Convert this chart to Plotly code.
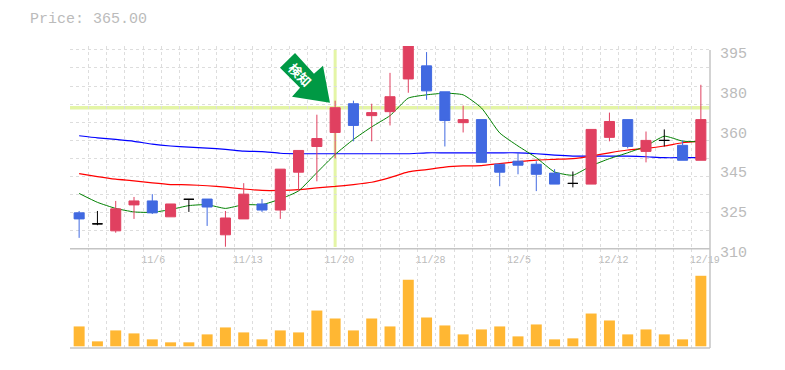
import plotly.graph_objects as go

idx = list(range(35))
tick_idx = [4, 9, 14, 19, 24, 29, 34]
tick_labels = ["11/6", "11/13", "11/20", "11/28", "12/5", "12/12", "12/19"]
y_ticks = [395, 378, 361, 344, 327, 310]
y_labels = ["395", "380", "360", "345", "325", "310"]

opens = [326.6, 321.9, 318.9, 330.0, 331.7, 324.9, 332.4, 332.5, 317.2, 324.0, 330.4, 327.8, 344.0, 355.0, 361.0,
         373.3, 368.2, 369.9, 383.9, 389.5, 378.4, 365.2, 366.5, 347.4, 348.7, 347.4, 343.6, 339.2, 338.9, 358.9,
         366.5, 352.9, 357.6, 355.5, 349.1]
closes = [324.0, 321.9, 328.3, 331.7, 326.6, 330.4, 332.4, 329.1, 324.4, 334.6, 327.8, 345.3, 353.3, 358.4, 371.6,
          364.0, 369.5, 376.3, 398.0, 378.8, 366.1, 366.5, 348.2, 344.0, 347.0, 343.1, 338.9, 339.2, 362.3, 365.7,
          355.0, 357.6, 357.6, 349.1, 366.5]
highs = [327.4, 327.4, 331.7, 333.4, 334.6, 330.4, 332.5, 332.5, 327.4, 339.3, 332.5, 345.3, 353.3, 368.6, 374.6,
         374.6, 373.3, 386.5, 398.0, 395.4, 378.4, 372.5, 366.5, 347.4, 352.5, 348.7, 345.3, 344.3, 362.3, 369.5,
         366.5, 361.4, 362.3, 357.6, 381.4]
lows = [315.9, 321.3, 318.1, 324.0, 326.1, 324.9, 327.0, 321.0, 312.1, 324.0, 327.0, 324.0, 335.9, 340.1, 349.9,
        357.2, 357.2, 364.0, 378.0, 375.0, 355.0, 361.0, 348.2, 338.0, 343.1, 335.9, 338.9, 337.5, 338.9, 357.2,
        354.2, 348.2, 355.0, 349.1, 349.1]
ma_short = [334.9, 331.1, 328.5, 327.0, 326.8, 328.0, 329.7, 330.1, 328.5, 330.1, 330.1, 332.5, 336.0, 343.8, 351.6,
            358.0, 363.4, 368.2, 375.7, 377.1, 377.8, 377.1, 371.5, 360.8, 355.2, 350.2, 344.1, 342.7, 346.7, 349.8,
            352.3, 355.2, 359.4, 357.3, 357.0]
ma_mid = [343.4, 342.1, 341.0, 340.3, 339.4, 338.7, 338.6, 338.2, 337.6, 336.8, 336.2, 336.2, 336.5, 337.3, 337.9,
          338.7, 339.7, 341.7, 344.1, 345.1, 346.2, 346.7, 346.8, 347.7, 348.5, 349.2, 349.5, 349.8, 350.9, 352.3,
          353.5, 354.2, 355.2, 356.6, 357.4]
ma_long = [359.6, 358.7, 358.0, 357.2, 356.0, 355.2, 354.7, 354.3, 353.8, 353.0, 352.8, 352.1, 351.9, 351.9, 351.9,
           351.9, 351.9, 351.9, 351.9, 352.3, 352.3, 352.3, 352.3, 352.3, 352.3, 351.9, 351.3, 350.9, 350.9, 350.9,
           350.9, 350.6, 350.2, 350.2, 350.2]
volumes = [20, 5, 16, 13, 7, 4, 4, 12, 19, 14, 7, 16, 14, 36, 28, 16, 28, 20, 67, 29, 21, 12, 17, 20, 10, 22, 7, 8,
           33, 26, 12, 17, 12, 7, 71]
h_grid = [396.3, 388.6, 380.8, 373.1, 365.4, 357.7, 349.9, 342.2, 334.5, 326.8, 319.0]
signal_idx = 14

RED, BLUE, BLACK = "#e04060", "#4169e1", "#000000"
GREY = "#bbbbbb"
GRID = "#dddddd"
MONO = "Liberation Mono, Courier New, monospace"
# the page body has an 8px margin, so the figure is drawn 8px in from the window corner
OFF = 8
L, R, T, B = 70 - OFF, 710 - OFF, 46 - OFF, 350 - OFF
W, H = 785 - OFF, 370 - OFF


def px(x, y):
    return (x - OFF - L) / (R - L), (B - (y - OFF)) / (B - T)


fig = go.Figure()
for vals, col, w in [(ma_long, "#0000ff", 1.2), (ma_mid, "#ff0000", 1.2), (ma_short, "#008000", 1)]:
    fig.add_trace(go.Scatter(x=idx, y=vals, mode="lines", line=dict(color=col, width=w, shape="spline", smoothing=0.5),
                             xaxis="x", yaxis="y"))


def candle(sel, col):
    fig.add_trace(go.Candlestick(
        x=[idx[i] for i in sel], open=[opens[i] for i in sel], high=[highs[i] for i in sel],
        low=[lows[i] for i in sel], close=[closes[i] for i in sel],
        increasing=dict(line=dict(color=col, width=1), fillcolor=col),
        decreasing=dict(line=dict(color=col, width=1), fillcolor=col),
        xaxis="x", yaxis="y3"))


candle([i for i in idx if closes[i] > opens[i]], RED)
candle([i for i in idx if closes[i] < opens[i]], BLUE)
candle([i for i in idx if closes[i] == opens[i]], BLACK)
fig.add_trace(go.Bar(x=idx, y=volumes, width=0.6, marker=dict(color="#ffb733", line=dict(width=0)),
                     xaxis="x2", yaxis="y2"))

x_minor = dict(tickmode="array", tickvals=[i - 0.5 for i in range(36)], showgrid=True, gridcolor=GRID,
               griddash="3px,3px", gridwidth=1, ticklen=0)
shapes = [
    dict(type="rect", xref="x", yref="y", x0=-0.6, x1=34.6, y0=396.4, y1=398, fillcolor="white",
         line=dict(width=0), layer="below"),
    dict(type="line", xref="x", yref="y", x0=-0.5, x1=34.5, y0=closes[signal_idx], y1=closes[signal_idx],
         line=dict(color="#e4f5a6", width=3.5), layer="below"),
    dict(type="line", xref="x", yref="y", x0=signal_idx, x1=signal_idx, y0=312, y1=396.3,
         line=dict(color="#e4f5a6", width=3), layer="below"),
]
for a, b in [((70, 250), (710, 250)), ((70, 350), (710, 350)), ((710, 50), (710, 350))]:
    (x0, y0), (x1, y1) = px(*a), px(*b)
    shapes.append(dict(type="line", xref="paper", yref="paper", x0=x0, y0=y0, x1=x1, y1=y1,
                       line=dict(color="#c4c4c4", width=1.5), layer="above"))
arrow = [(330, 103), (323, 66), (314, 74), (295, 53), (280, 68), (300, 88), (292, 97)]
path = "M" + " L".join("%.4f %.4f" % px(*p) for p in arrow) + " Z"
shapes.append(dict(type="path", xref="paper", yref="paper", path=path, fillcolor="#009944",
                   line=dict(width=0), layer="above"))

ax, ay = px(300, 75)
fig.update_layout(
    width=W, height=H, autosize=False, margin=dict(l=L, r=W - R, t=T, b=H - B, pad=0),
    plot_bgcolor="rgba(0,0,0,0)", paper_bgcolor="white", showlegend=False, boxgap=0.45, boxgroupgap=0, bargap=0.4,
    title=dict(text="Price: 365.00", x=(30 - OFF) / W, xanchor="left", xref="container",
               y=1 - (18 - OFF) / H, yanchor="middle", font=dict(family=MONO, size=15, color=GREY)),
    xaxis=dict(range=[-0.5, 34.5], tickmode="array", tickvals=tick_idx,
               ticktext=[t.ljust(5, "\u00a0") for t in tick_labels], ticks="", showgrid=False, zeroline=False,
               showline=False, rangeslider=dict(visible=False), minor=x_minor, anchor="y", ticklabelshift=4,
               tickfont=dict(family=MONO, size=10, color=GREY), domain=[0, 1]),
    yaxis=dict(domain=[(350 - 253) / (350 - 46), 1], range=[310, 398], side="right", tickmode="array",
               tickvals=y_ticks, ticktext=y_labels, showgrid=False, zeroline=False, showline=False, ticks="",
               tickfont=dict(family=MONO, size=15, color=GREY), ticklabelstandoff=9,
               minor=dict(tickmode="array", tickvals=h_grid, showgrid=True, gridcolor=GRID, griddash="3px,3px",
                          gridwidth=1, ticklen=0), anchor="x"),
    yaxis3=dict(overlaying="y", range=[310, 398], visible=False, anchor="x"),
    xaxis2=dict(range=[-0.5, 34.5], domain=[0, 1], anchor="y2", showticklabels=False, ticks="", showgrid=False,
                zeroline=False, showline=False, minor=x_minor),
    yaxis2=dict(domain=[0, 100 / (350 - 46)], range=[-1.7, 98.3], visible=False, anchor="x2"),
    shapes=shapes,
    annotations=[dict(text="<b>検知</b>", xref="paper", yref="paper", x=ax, y=ay, xanchor="center", yanchor="middle",
                      showarrow=False, textangle=45,
                      font=dict(family="Noto Sans CJK JP", size=13, color="white"))],
)
fig.write_html("out.html")
